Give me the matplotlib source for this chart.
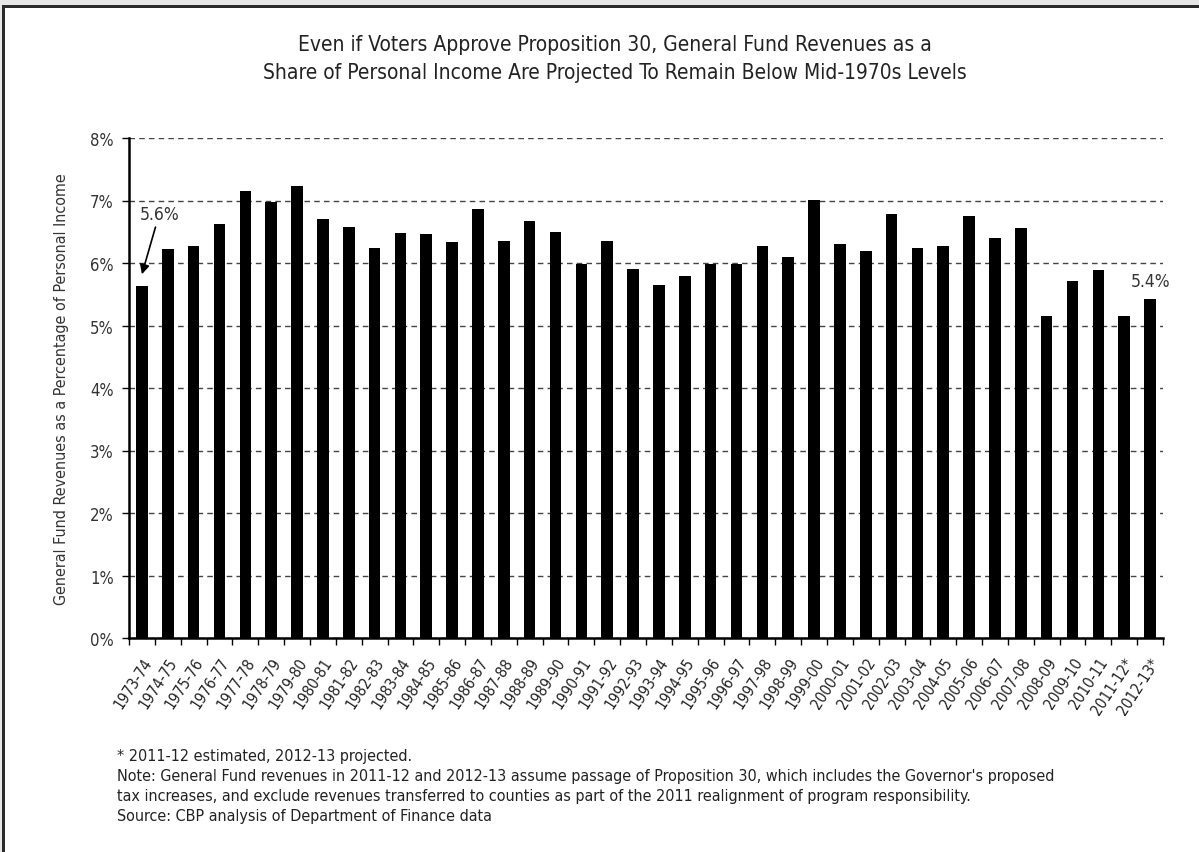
import matplotlib
matplotlib.use('Agg')
import matplotlib.pyplot as plt
import matplotlib.patches as patches
import numpy as np

years = ['1973-74', '1974-75', '1975-76', '1976-77', '1977-78', '1978-79', '1979-80',
         '1980-81', '1981-82', '1982-83', '1983-84', '1984-85', '1985-86', '1986-87',
         '1987-88', '1988-89', '1989-90', '1990-91', '1991-92', '1992-93', '1993-94',
         '1994-95', '1995-96', '1996-97', '1997-98', '1998-99', '1999-00', '2000-01',
         '2001-02', '2002-03', '2003-04', '2004-05', '2005-06', '2006-07', '2007-08',
         '2008-09', '2009-10', '2010-11', '2011-12*', '2012-13*']
share = [5.64, 6.23, 6.28, 6.63, 7.16, 6.98, 7.23, 6.71, 6.58, 6.24,
         6.48, 6.46, 6.34, 6.86, 6.36, 6.67, 6.50, 5.98, 6.36, 5.90,
         5.65, 5.80, 5.98, 5.98, 6.27, 6.10, 7.01, 6.30, 6.19, 6.79,
         6.24, 6.28, 6.75, 6.40, 6.56, 5.15, 5.71, 5.89, 5.16, 5.43]
yticks = [0, 1, 2, 3, 4, 5, 6, 7, 8]

plt.rcParams['font.family'] = ['DejaVu Sans']
plt.rcParams['font.stretch'] = 'condensed'
cond = dict(fontstretch='condensed')

fig = plt.figure(figsize=(11.99, 8.53), dpi=100)
fig.patch.set_facecolor('white')
ax = fig.add_axes([129/1199, 1 - 639/853, (1163 - 129)/1199, 500/853])

x = np.arange(len(years))
ax.bar(x, share, width=0.45, color='black', zorder=3)

ax.set_xlim(-0.5, len(years) - 0.5)
ax.set_ylim(0, 8)
ax.set_yticks(yticks)
ax.set_yticklabels([f'{t}%' for t in yticks], fontsize=12, color='#333333', **cond)
ax.yaxis.grid(True, linestyle=(0, (4, 3)), color='#444444', lw=1, zorder=0)
ax.set_xticks(x)
ax.set_xticklabels(years, rotation=57, ha='right', rotation_mode='anchor',
                   fontsize=11, color='#222222', **cond)
ax.set_xticks(np.arange(len(years) + 1) - 0.5, minor=True)
ax.tick_params(axis='x', which='major', length=0, pad=12)
ax.tick_params(axis='x', which='minor', length=5, width=1, color='black')
ax.tick_params(axis='y', length=5, width=1, pad=6)
for s in ['top', 'right']:
    ax.spines[s].set_visible(False)
ax.spines['left'].set_linewidth(1.8)
ax.spines['bottom'].set_linewidth(1.8)

ax.set_ylabel('General Fund Revenues as a Percentage of Personal Income',
              fontsize=11.5, color='#333333', labelpad=15, **cond)

# annotations
ax.annotate(f'{share[0]:.1f}%', xy=(0, 5.82), xytext=(0.67, 6.64),
            ha='center', va='bottom', fontsize=12.5, color='#333333',
            arrowprops=dict(arrowstyle='-|>', lw=1.2, color='black',
                            mutation_scale=14, shrinkA=1, shrinkB=0), **cond)
ax.text(x[-1], share[-1] + 0.14, f'{share[-1]:.1f}%', ha='center', va='bottom',
        fontsize=12.5, color='#333333', **cond)

# title
fig.text(615/1199, 1 - 45/853,
         'Even if Voters Approve Proposition 30, General Fund Revenues as a',
         ha='center', va='center', fontsize=15, color='#222222', **cond)
fig.text(615/1199, 1 - 73/853,
         'Share of Personal Income Are Projected To Remain Below Mid-1970s Levels',
         ha='center', va='center', fontsize=15, color='#222222', **cond)

# footnotes
notes = ['* 2011-12 estimated, 2012-13 projected.',
         "Note: General Fund revenues in 2011-12 and 2012-13 assume passage of Proposition 30, which includes the Governor's proposed",
         'tax increases, and exclude revenues transferred to counties as part of the 2011 realignment of program responsibility.',
         'Source: CBP analysis of Department of Finance data']
for i, n in enumerate(notes):
    fig.text(117/1199, 1 - (757 + i*19.7)/853, n, ha='left', va='center',
             fontsize=11.55, color='#222222', **cond)

# outer frame
H, W = 853, 1199
fig.add_artist(patches.Rectangle((0, 1 - 6/H), 1, 6/H, transform=fig.transFigure,
                                 facecolor='#e6e6e6', edgecolor='none'))
fig.add_artist(patches.Rectangle((0, 0), 2/W, 1, transform=fig.transFigure,
                                 facecolor='#e6e6e6', edgecolor='none'))
fig.add_artist(patches.Rectangle((2/W, 1 - 9/H), 1, 3/H, transform=fig.transFigure,
                                 facecolor='#2a2a2a', edgecolor='none'))
fig.add_artist(patches.Rectangle((2/W, 0), 3/W, 1 - 6/H, transform=fig.transFigure,
                                 facecolor='#2a2a2a', edgecolor='none'))

fig.savefig('out.png', dpi=100)
